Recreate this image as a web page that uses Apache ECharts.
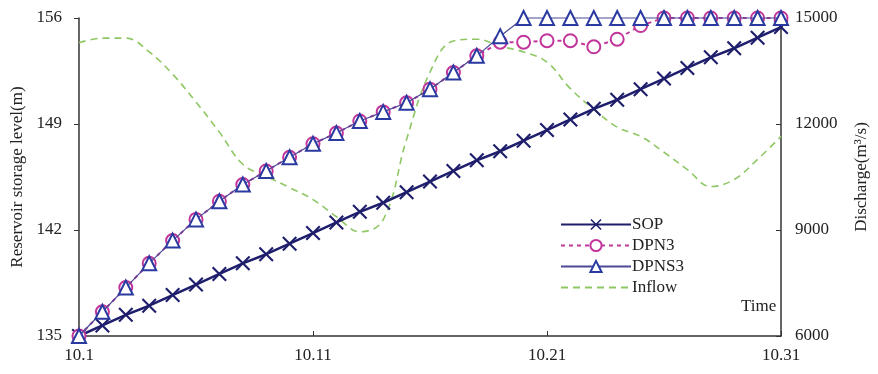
<!DOCTYPE html>
<html>
<head>
<meta charset="utf-8">
<script src="https://cdn.jsdelivr.net/npm/echarts@6/dist/echarts.min.js"></script>
<style>
  html, body { margin: 0; padding: 0; background: #fff; }
  #chart { width: 878px; height: 374px; }
</style>
</head>
<body>
<div id="chart"></div>
<script>
// days 10.1 .. 10.31
var days = ['10.1', '10.2', '10.3', '10.4', '10.5', '10.6', '10.7', '10.8', '10.9', '10.10',
  '10.11', '10.12', '10.13', '10.14', '10.15', '10.16', '10.17', '10.18', '10.19', '10.20',
  '10.21', '10.22', '10.23', '10.24', '10.25', '10.26', '10.27', '10.28', '10.29', '10.30', '10.31'];

// reservoir level (m), left axis
var sop = [135.0, 135.7, 136.4, 137.0, 137.7, 138.4, 139.1, 139.8, 140.4, 141.1,
  141.8, 142.5, 143.2, 143.8, 144.5, 145.2, 145.9, 146.6, 147.2, 147.9,
  148.6, 149.3, 150.0, 150.6, 151.3, 152.0, 152.7, 153.4, 154.0, 154.7, 155.4];
var dpn3 = [135.0, 136.6, 138.2, 139.8, 141.3, 142.7, 143.9, 145.0, 145.9, 146.8,
  147.7, 148.4, 149.2, 149.8, 150.4, 151.3, 152.4, 153.5, 154.4, 154.4,
  154.5, 154.5, 154.1, 154.6, 155.5, 156.0, 156.0, 156.0, 156.0, 156.0, 156.0];
var dpns3 = [135.0, 136.6, 138.2, 139.8, 141.3, 142.7, 143.9, 145.0, 145.9, 146.8,
  147.7, 148.4, 149.2, 149.8, 150.4, 151.3, 152.4, 153.5, 154.8, 156.0,
  156.0, 156.0, 156.0, 156.0, 156.0, 156.0, 156.0, 156.0, 156.0, 156.0, 156.0];

// inflow (m3/s), right axis
var inflow = [14300, 14430, 14430, 14040, 13410, 12620, 11770, 10860, 10520, 10200,
  9860, 9380, 8950, 9290, 11570, 13470, 14350, 14400, 14200, 14040,
  13750, 13000, 12420, 11910, 11650, 11200, 10710, 10230, 10430, 11000, 11650];

var leftTicks = [135, 156, 7];
var rightTicks = [6000, 15000, 3000];

var serif = 'Liberation Serif';
var crossPath = 'path://M0,1L1,0L5,4L9,0L10,1L6,5L10,9L9,10L5,6L1,10L0,9L4,5Z';

var chart = echarts.init(document.getElementById('chart'));
chart.setOption({
  animation: false,
  textStyle: { fontFamily: serif, color: '#222' },
  grid: { left: 79, right: 91, top: 18, bottom: 38 },
  legend: {
    orient: 'vertical',
    left: 555,
    top: 211,
    itemWidth: 70,
    itemHeight: 14,
    itemGap: 4,
    textStyle: { fontFamily: serif, fontSize: 17, color: '#222', padding: [0, 0, 0, -4] },
    data: ['SOP', 'DPN3', 'DPNS3', { name: 'Inflow', itemStyle: { opacity: 0 } }]
  },
  graphic: [{
    type: 'text',
    left: 741,
    top: 298,
    style: { text: 'Time', font: '17px "Liberation Serif"', fill: '#222' }
  }],
  xAxis: {
    type: 'category',
    data: days,
    boundaryGap: false,
    axisLine: { lineStyle: { color: '#333', width: 1.5 } },
    axisTick: { inside: true, interval: 9, length: 5, lineStyle: { color: '#333' } },
    axisLabel: { interval: 9, fontSize: 17, fontFamily: serif, color: '#222', margin: 11 },
    splitLine: { show: false }
  },
  yAxis: [{
    type: 'value',
    min: leftTicks[0],
    max: leftTicks[1],
    interval: leftTicks[2],
    name: 'Reservoir storage level(m)',
    nameLocation: 'middle',
    nameRotate: 90,
    nameGap: 50,
    nameTextStyle: { fontSize: 17, fontFamily: serif, color: '#222' },
    axisLine: { show: true, lineStyle: { color: '#333', width: 1.5 } },
    axisTick: { show: true, length: 5, lineStyle: { color: '#333' } },
    axisLabel: { fontSize: 17, fontFamily: serif, color: '#222', margin: 17 },
    splitLine: { show: false }
  }, {
    type: 'value',
    position: 'right',
    min: rightTicks[0],
    max: rightTicks[1],
    interval: rightTicks[2],
    name: 'Discharge(m³/s)',
    nameLocation: 'middle',
    nameRotate: 90,
    nameGap: 72,
    nameTextStyle: { fontSize: 17, fontFamily: serif, color: '#222' },
    axisLine: { show: true, lineStyle: { color: '#333', width: 1.5 } },
    axisTick: { show: true, inside: true, length: 5, lineStyle: { color: '#333' } },
    axisLabel: { fontSize: 17, fontFamily: serif, color: '#222', margin: 14, formatter: function (v) { return String(v); } },
    splitLine: { show: false }
  }],
  series: [{
    name: 'SOP',
    type: 'line',
    data: sop,
    clip: false,
    symbol: crossPath,
    symbolSize: 15,
    color: '#1e1e6c',
    itemStyle: { color: '#1e1e6c' },
    lineStyle: { color: '#1e1e6c', width: 2.5 },
    z: 3
  }, {
    name: 'DPN3',
    type: 'line',
    data: dpn3,
    clip: false,
    symbol: 'emptyCircle',
    symbolSize: 13,
    color: '#c2369c',
    itemStyle: { color: '#c2369c', borderWidth: 2 },
    lineStyle: { color: '#c2369c', width: 2, type: [4, 4] },
    z: 4
  }, {
    name: 'DPNS3',
    type: 'line',
    data: dpns3,
    clip: false,
    symbol: 'emptyTriangle',
    symbolSize: 14,
    color: '#2a3aa0',
    itemStyle: { color: '#2a3aa0', borderWidth: 2 },
    lineStyle: { color: '#4a4a96', width: 1.2 },
    z: 5
  }, {
    name: 'Inflow',
    type: 'line',
    yAxisIndex: 1,
    data: inflow,
    symbol: 'none',
    smooth: 0.4,
    color: '#8ec764',
    lineStyle: { color: '#8ec764', width: 1.6, type: [7, 5] },
    z: 2
  }]
});
</script>
</body>
</html>
